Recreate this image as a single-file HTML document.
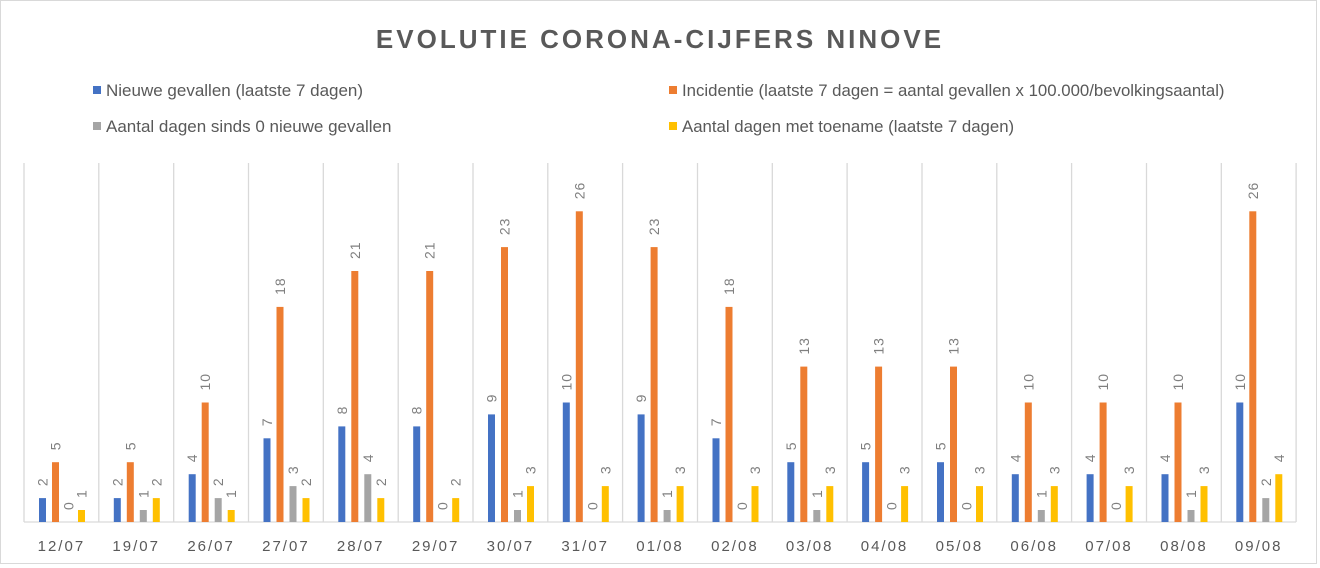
<!DOCTYPE html>
<html><head><meta charset="utf-8"><style>
html,body{margin:0;padding:0;background:#fff}
svg{display:block;font-family:"Liberation Sans",sans-serif}
.l{font-size:14px;fill:#7f7f7f;letter-spacing:1px}
.c{font-size:15px;fill:#595959;letter-spacing:2px;text-anchor:middle}
.b{fill:#4472C4}.o{fill:#ED7D31}.g{fill:#A5A5A5}.y{fill:#FFC000}
.gl{stroke:#d9d9d9;stroke-width:1.3}
</style></head><body>
<svg width="1320" height="568" viewBox="0 0 1320 568" xmlns="http://www.w3.org/2000/svg">
<rect x="0.5" y="0.5" width="1316" height="563" fill="#fff" stroke="#d9d9d9"/>
<text x="660" y="48" text-anchor="middle" font-size="26" font-weight="bold" fill="#595959" letter-spacing="3">EVOLUTIE  CORONA-CIJFERS  NINOVE</text>
<rect x="93" y="86" width="8" height="8" fill="#4472C4"/>
<text x="106" y="96" font-size="17" fill="#595959">Nieuwe gevallen (laatste 7 dagen)</text>
<rect x="669" y="86" width="8" height="8" fill="#ED7D31"/>
<text x="682" y="96" font-size="16.8" fill="#595959">Incidentie (laatste 7 dagen = aantal gevallen x 100.000/bevolkingsaantal)</text>
<rect x="93" y="122" width="8" height="8" fill="#A5A5A5"/>
<text x="106" y="132" font-size="17" fill="#595959">Aantal dagen sinds 0 nieuwe gevallen</text>
<rect x="669" y="122" width="8" height="8" fill="#FFC000"/>
<text x="682" y="132" font-size="16.8" fill="#595959">Aantal dagen met toename (laatste 7 dagen)</text>
<g class="gl">
<line x1="24" y1="163" x2="24" y2="522"/><line x1="98.8" y1="163" x2="98.8" y2="522"/><line x1="173.7" y1="163" x2="173.7" y2="522"/><line x1="248.5" y1="163" x2="248.5" y2="522"/><line x1="323.3" y1="163" x2="323.3" y2="522"/><line x1="398.2" y1="163" x2="398.2" y2="522"/><line x1="473" y1="163" x2="473" y2="522"/><line x1="547.8" y1="163" x2="547.8" y2="522"/><line x1="622.6" y1="163" x2="622.6" y2="522"/><line x1="697.5" y1="163" x2="697.5" y2="522"/><line x1="772.3" y1="163" x2="772.3" y2="522"/><line x1="847.1" y1="163" x2="847.1" y2="522"/><line x1="922" y1="163" x2="922" y2="522"/><line x1="996.8" y1="163" x2="996.8" y2="522"/><line x1="1071.6" y1="163" x2="1071.6" y2="522"/><line x1="1146.5" y1="163" x2="1146.5" y2="522"/><line x1="1221.3" y1="163" x2="1221.3" y2="522"/><line x1="1296.1" y1="163" x2="1296.1" y2="522"/>
<line x1="24" y1="522" x2="1296.1" y2="522"/>
</g>

<g transform="translate(24,0)">
<rect class="b" x="15" y="498.1" width="7" height="23.9"/><rect class="o" x="28" y="462.2" width="7" height="59.8"/><rect class="y" x="54" y="510" width="7" height="12"/>
<text class="l" transform="translate(23.5,486.1) rotate(-90)">2</text><text class="l" transform="translate(36.5,450.2) rotate(-90)">5</text><text class="l" transform="translate(49.5,510) rotate(-90)">0</text><text class="l" transform="translate(62.5,498) rotate(-90)">1</text>
<text class="c" x="37.4" y="551">12/07</text></g>

<g transform="translate(98.8,0)">
<rect class="b" x="15" y="498.1" width="7" height="23.9"/><rect class="o" x="28" y="462.2" width="7" height="59.8"/><rect class="g" x="41" y="510" width="7" height="12"/><rect class="y" x="54" y="498.1" width="7" height="23.9"/>
<text class="l" transform="translate(23.5,486.1) rotate(-90)">2</text><text class="l" transform="translate(36.5,450.2) rotate(-90)">5</text><text class="l" transform="translate(49.5,498) rotate(-90)">1</text><text class="l" transform="translate(62.5,486.1) rotate(-90)">2</text>
<text class="c" x="37.4" y="551">19/07</text></g>

<g transform="translate(173.7,0)">
<rect class="b" x="15" y="474.2" width="7" height="47.8"/><rect class="o" x="28" y="402.5" width="7" height="119.5"/><rect class="g" x="41" y="498.1" width="7" height="23.9"/><rect class="y" x="54" y="510" width="7" height="12"/>
<text class="l" transform="translate(23.5,462.2) rotate(-90)">4</text><text class="l" transform="translate(36.5,390.5) rotate(-90)">10</text><text class="l" transform="translate(49.5,486.1) rotate(-90)">2</text><text class="l" transform="translate(62.5,498) rotate(-90)">1</text>
<text class="c" x="37.4" y="551">26/07</text></g>

<g transform="translate(248.5,0)">
<rect class="b" x="15" y="438.3" width="7" height="83.7"/><rect class="o" x="28" y="306.9" width="7" height="215.1"/><rect class="g" x="41" y="486.1" width="7" height="35.9"/><rect class="y" x="54" y="498.1" width="7" height="23.9"/>
<text class="l" transform="translate(23.5,426.3) rotate(-90)">7</text><text class="l" transform="translate(36.5,294.9) rotate(-90)">18</text><text class="l" transform="translate(49.5,474.1) rotate(-90)">3</text><text class="l" transform="translate(62.5,486.1) rotate(-90)">2</text>
<text class="c" x="37.4" y="551">27/07</text></g>

<g transform="translate(323.3,0)">
<rect class="b" x="15" y="426.4" width="7" height="95.6"/><rect class="o" x="28" y="271" width="7" height="251"/><rect class="g" x="41" y="474.2" width="7" height="47.8"/><rect class="y" x="54" y="498.1" width="7" height="23.9"/>
<text class="l" transform="translate(23.5,414.4) rotate(-90)">8</text><text class="l" transform="translate(36.5,259) rotate(-90)">21</text><text class="l" transform="translate(49.5,462.2) rotate(-90)">4</text><text class="l" transform="translate(62.5,486.1) rotate(-90)">2</text>
<text class="c" x="37.4" y="551">28/07</text></g>

<g transform="translate(398.2,0)">
<rect class="b" x="15" y="426.4" width="7" height="95.6"/><rect class="o" x="28" y="271" width="7" height="251"/><rect class="y" x="54" y="498.1" width="7" height="23.9"/>
<text class="l" transform="translate(23.5,414.4) rotate(-90)">8</text><text class="l" transform="translate(36.5,259) rotate(-90)">21</text><text class="l" transform="translate(49.5,510) rotate(-90)">0</text><text class="l" transform="translate(62.5,486.1) rotate(-90)">2</text>
<text class="c" x="37.4" y="551">29/07</text></g>

<g transform="translate(473,0)">
<rect class="b" x="15" y="414.4" width="7" height="107.6"/><rect class="o" x="28" y="247.1" width="7" height="274.9"/><rect class="g" x="41" y="510" width="7" height="12"/><rect class="y" x="54" y="486.1" width="7" height="35.9"/>
<text class="l" transform="translate(23.5,402.4) rotate(-90)">9</text><text class="l" transform="translate(36.5,235.1) rotate(-90)">23</text><text class="l" transform="translate(49.5,498) rotate(-90)">1</text><text class="l" transform="translate(62.5,474.1) rotate(-90)">3</text>
<text class="c" x="37.4" y="551">30/07</text></g>

<g transform="translate(547.8,0)">
<rect class="b" x="15" y="402.5" width="7" height="119.5"/><rect class="o" x="28" y="211.3" width="7" height="310.7"/><rect class="y" x="54" y="486.1" width="7" height="35.9"/>
<text class="l" transform="translate(23.5,390.5) rotate(-90)">10</text><text class="l" transform="translate(36.5,199.3) rotate(-90)">26</text><text class="l" transform="translate(49.5,510) rotate(-90)">0</text><text class="l" transform="translate(62.5,474.1) rotate(-90)">3</text>
<text class="c" x="37.4" y="551">31/07</text></g>

<g transform="translate(622.6,0)">
<rect class="b" x="15" y="414.4" width="7" height="107.6"/><rect class="o" x="28" y="247.1" width="7" height="274.9"/><rect class="g" x="41" y="510" width="7" height="12"/><rect class="y" x="54" y="486.1" width="7" height="35.9"/>
<text class="l" transform="translate(23.5,402.4) rotate(-90)">9</text><text class="l" transform="translate(36.5,235.1) rotate(-90)">23</text><text class="l" transform="translate(49.5,498) rotate(-90)">1</text><text class="l" transform="translate(62.5,474.1) rotate(-90)">3</text>
<text class="c" x="37.4" y="551">01/08</text></g>

<g transform="translate(697.5,0)">
<rect class="b" x="15" y="438.3" width="7" height="83.7"/><rect class="o" x="28" y="306.9" width="7" height="215.1"/><rect class="y" x="54" y="486.1" width="7" height="35.9"/>
<text class="l" transform="translate(23.5,426.3) rotate(-90)">7</text><text class="l" transform="translate(36.5,294.9) rotate(-90)">18</text><text class="l" transform="translate(49.5,510) rotate(-90)">0</text><text class="l" transform="translate(62.5,474.1) rotate(-90)">3</text>
<text class="c" x="37.4" y="551">02/08</text></g>

<g transform="translate(772.3,0)">
<rect class="b" x="15" y="462.2" width="7" height="59.8"/><rect class="o" x="28" y="366.6" width="7" height="155.4"/><rect class="g" x="41" y="510" width="7" height="12"/><rect class="y" x="54" y="486.1" width="7" height="35.9"/>
<text class="l" transform="translate(23.5,450.2) rotate(-90)">5</text><text class="l" transform="translate(36.5,354.6) rotate(-90)">13</text><text class="l" transform="translate(49.5,498) rotate(-90)">1</text><text class="l" transform="translate(62.5,474.1) rotate(-90)">3</text>
<text class="c" x="37.4" y="551">03/08</text></g>

<g transform="translate(847.1,0)">
<rect class="b" x="15" y="462.2" width="7" height="59.8"/><rect class="o" x="28" y="366.6" width="7" height="155.4"/><rect class="y" x="54" y="486.1" width="7" height="35.9"/>
<text class="l" transform="translate(23.5,450.2) rotate(-90)">5</text><text class="l" transform="translate(36.5,354.6) rotate(-90)">13</text><text class="l" transform="translate(49.5,510) rotate(-90)">0</text><text class="l" transform="translate(62.5,474.1) rotate(-90)">3</text>
<text class="c" x="37.4" y="551">04/08</text></g>

<g transform="translate(922,0)">
<rect class="b" x="15" y="462.2" width="7" height="59.8"/><rect class="o" x="28" y="366.6" width="7" height="155.4"/><rect class="y" x="54" y="486.1" width="7" height="35.9"/>
<text class="l" transform="translate(23.5,450.2) rotate(-90)">5</text><text class="l" transform="translate(36.5,354.6) rotate(-90)">13</text><text class="l" transform="translate(49.5,510) rotate(-90)">0</text><text class="l" transform="translate(62.5,474.1) rotate(-90)">3</text>
<text class="c" x="37.4" y="551">05/08</text></g>

<g transform="translate(996.8,0)">
<rect class="b" x="15" y="474.2" width="7" height="47.8"/><rect class="o" x="28" y="402.5" width="7" height="119.5"/><rect class="g" x="41" y="510" width="7" height="12"/><rect class="y" x="54" y="486.1" width="7" height="35.9"/>
<text class="l" transform="translate(23.5,462.2) rotate(-90)">4</text><text class="l" transform="translate(36.5,390.5) rotate(-90)">10</text><text class="l" transform="translate(49.5,498) rotate(-90)">1</text><text class="l" transform="translate(62.5,474.1) rotate(-90)">3</text>
<text class="c" x="37.4" y="551">06/08</text></g>

<g transform="translate(1071.6,0)">
<rect class="b" x="15" y="474.2" width="7" height="47.8"/><rect class="o" x="28" y="402.5" width="7" height="119.5"/><rect class="y" x="54" y="486.1" width="7" height="35.9"/>
<text class="l" transform="translate(23.5,462.2) rotate(-90)">4</text><text class="l" transform="translate(36.5,390.5) rotate(-90)">10</text><text class="l" transform="translate(49.5,510) rotate(-90)">0</text><text class="l" transform="translate(62.5,474.1) rotate(-90)">3</text>
<text class="c" x="37.4" y="551">07/08</text></g>

<g transform="translate(1146.5,0)">
<rect class="b" x="15" y="474.2" width="7" height="47.8"/><rect class="o" x="28" y="402.5" width="7" height="119.5"/><rect class="g" x="41" y="510" width="7" height="12"/><rect class="y" x="54" y="486.1" width="7" height="35.9"/>
<text class="l" transform="translate(23.5,462.2) rotate(-90)">4</text><text class="l" transform="translate(36.5,390.5) rotate(-90)">10</text><text class="l" transform="translate(49.5,498) rotate(-90)">1</text><text class="l" transform="translate(62.5,474.1) rotate(-90)">3</text>
<text class="c" x="37.4" y="551">08/08</text></g>

<g transform="translate(1221.3,0)">
<rect class="b" x="15" y="402.5" width="7" height="119.5"/><rect class="o" x="28" y="211.3" width="7" height="310.7"/><rect class="g" x="41" y="498.1" width="7" height="23.9"/><rect class="y" x="54" y="474.2" width="7" height="47.8"/>
<text class="l" transform="translate(23.5,390.5) rotate(-90)">10</text><text class="l" transform="translate(36.5,199.3) rotate(-90)">26</text><text class="l" transform="translate(49.5,486.1) rotate(-90)">2</text><text class="l" transform="translate(62.5,462.2) rotate(-90)">4</text>
<text class="c" x="37.4" y="551">09/08</text></g>
</svg>
</body></html>
